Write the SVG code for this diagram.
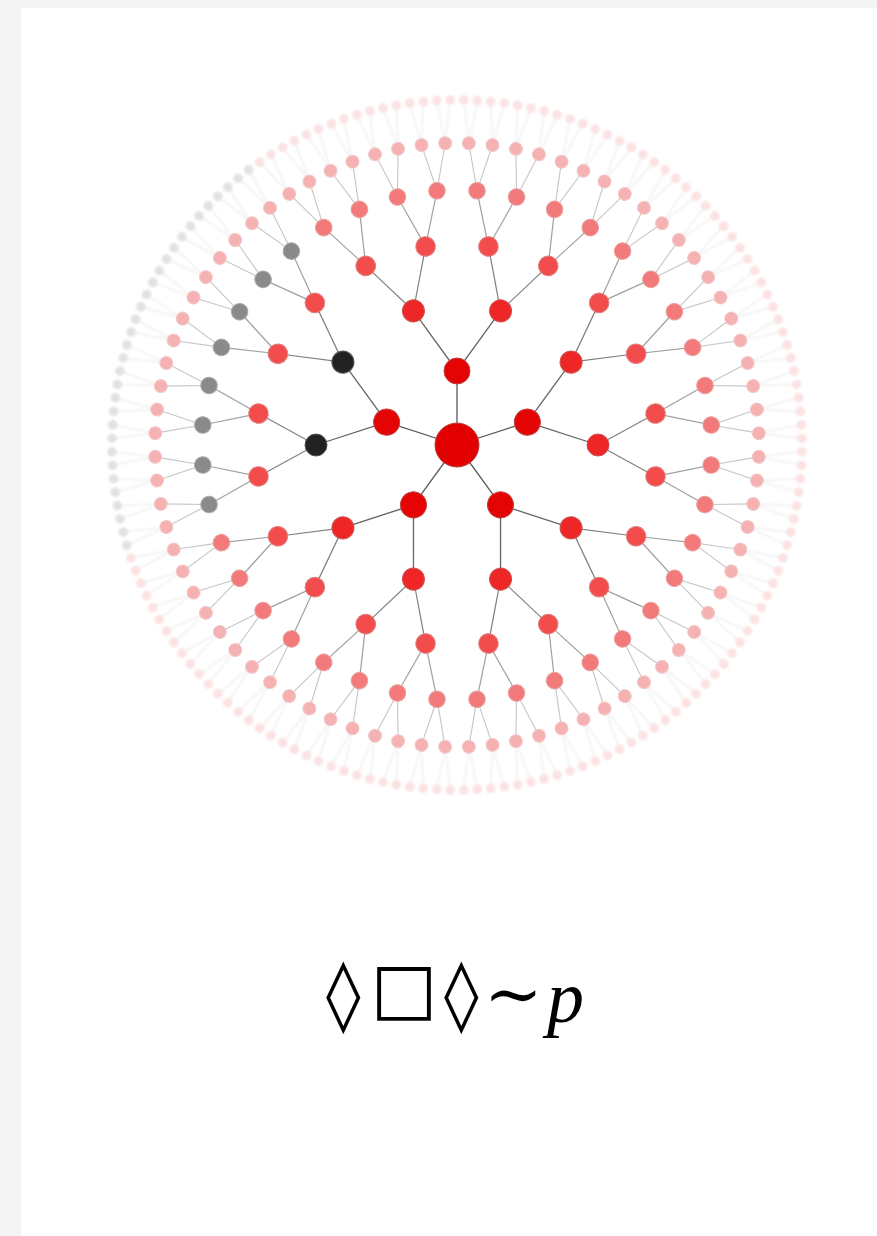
<svg xmlns="http://www.w3.org/2000/svg" width="877" height="1236" viewBox="0 0 877 1236">
<style>
.bg{fill:#f4f4f4}
.page{fill:#ffffff}
.e1{stroke:#5a5a5a;stroke-width:1.3}
.e2{stroke:#666;stroke-width:1.3}
.e3{stroke:#808080;stroke-width:1.2}
.e4{stroke:#a0a0a0;stroke-width:1.2}
.e5{stroke:#c6c6c6;stroke-width:1.1}
.e6{stroke:#e8e8e8;stroke-width:1}
.d0{fill:#e30000;stroke:#b54040;stroke-width:1}
.d1{fill:#e40404;stroke:#c04040;stroke-width:1}
.d2{fill:#ee2626;stroke:#d05050;stroke-width:1}
.d3{fill:#f24c4c;stroke:#e08080;stroke-width:1}
.d4{fill:#f37a7a;stroke:#eaa0a0;stroke-width:1}
.d5{fill:#f6b2b2;stroke:#f2caca;stroke-width:1}
.d6{fill:#fce2e2}
.g2{fill:#222;stroke:#555;stroke-width:1}
.g4{fill:#8a8a8a;stroke:#aaa;stroke-width:1}
.g6{fill:#e2e2e2}
.formula{font-family:"DejaVu Serif","Liberation Serif",serif;font-size:70px;fill:#000}
.var{font-family:"Liberation Serif","DejaVu Serif",serif;font-style:italic;font-size:74px}
</style>
<defs>
<filter id="soft" x="-20%" y="-20%" width="140%" height="140%"><feGaussianBlur stdDeviation="1.1"/></filter>
</defs>
<rect class="bg" x="0" y="0" width="877" height="1236"/>
<rect class="page" x="21" y="8" width="856" height="1228"/>
<g transform="translate(457 445)">
<g id="connectors">
<g class="e6" filter="url(#soft)">
<line transform="rotate(1.125)" y1="-345" x2="5.93" y2="-301.94"/><line transform="rotate(3.375)" y1="-345" x2="-5.93" y2="-301.94"/><line transform="rotate(5.625)" y1="-345" x2="5.93" y2="-301.94"/><line transform="rotate(7.875)" y1="-345" x2="-5.93" y2="-301.94"/>
<line transform="rotate(10.125)" y1="-345" x2="5.93" y2="-301.94"/><line transform="rotate(12.375)" y1="-345" x2="-5.93" y2="-301.94"/><line transform="rotate(14.625)" y1="-345" x2="5.93" y2="-301.94"/><line transform="rotate(16.875)" y1="-345" x2="-5.93" y2="-301.94"/>
<line transform="rotate(19.125)" y1="-345" x2="5.93" y2="-301.94"/><line transform="rotate(21.375)" y1="-345" x2="-5.93" y2="-301.94"/><line transform="rotate(23.625)" y1="-345" x2="5.93" y2="-301.94"/><line transform="rotate(25.875)" y1="-345" x2="-5.93" y2="-301.94"/>
<line transform="rotate(28.125)" y1="-345" x2="5.93" y2="-301.94"/><line transform="rotate(30.375)" y1="-345" x2="-5.93" y2="-301.94"/><line transform="rotate(32.625)" y1="-345" x2="5.93" y2="-301.94"/><line transform="rotate(34.875)" y1="-345" x2="-5.93" y2="-301.94"/>
<line transform="rotate(37.125)" y1="-345" x2="5.93" y2="-301.94"/><line transform="rotate(39.375)" y1="-345" x2="-5.93" y2="-301.94"/><line transform="rotate(41.625)" y1="-345" x2="5.93" y2="-301.94"/><line transform="rotate(43.875)" y1="-345" x2="-5.93" y2="-301.94"/>
<line transform="rotate(46.125)" y1="-345" x2="5.93" y2="-301.94"/><line transform="rotate(48.375)" y1="-345" x2="-5.93" y2="-301.94"/><line transform="rotate(50.625)" y1="-345" x2="5.93" y2="-301.94"/><line transform="rotate(52.875)" y1="-345" x2="-5.93" y2="-301.94"/>
<line transform="rotate(55.125)" y1="-345" x2="5.93" y2="-301.94"/><line transform="rotate(57.375)" y1="-345" x2="-5.93" y2="-301.94"/><line transform="rotate(59.625)" y1="-345" x2="5.93" y2="-301.94"/><line transform="rotate(61.875)" y1="-345" x2="-5.93" y2="-301.94"/>
<line transform="rotate(64.125)" y1="-345" x2="5.93" y2="-301.94"/><line transform="rotate(66.375)" y1="-345" x2="-5.93" y2="-301.94"/><line transform="rotate(68.625)" y1="-345" x2="5.93" y2="-301.94"/><line transform="rotate(70.875)" y1="-345" x2="-5.93" y2="-301.94"/>
<line transform="rotate(73.125)" y1="-345" x2="5.93" y2="-301.94"/><line transform="rotate(75.375)" y1="-345" x2="-5.93" y2="-301.94"/><line transform="rotate(77.625)" y1="-345" x2="5.93" y2="-301.94"/><line transform="rotate(79.875)" y1="-345" x2="-5.93" y2="-301.94"/>
<line transform="rotate(82.125)" y1="-345" x2="5.93" y2="-301.94"/><line transform="rotate(84.375)" y1="-345" x2="-5.93" y2="-301.94"/><line transform="rotate(86.625)" y1="-345" x2="5.93" y2="-301.94"/><line transform="rotate(88.875)" y1="-345" x2="-5.93" y2="-301.94"/>
<line transform="rotate(91.125)" y1="-345" x2="5.93" y2="-301.94"/><line transform="rotate(93.375)" y1="-345" x2="-5.93" y2="-301.94"/><line transform="rotate(95.625)" y1="-345" x2="5.93" y2="-301.94"/><line transform="rotate(97.875)" y1="-345" x2="-5.93" y2="-301.94"/>
<line transform="rotate(100.125)" y1="-345" x2="5.93" y2="-301.94"/><line transform="rotate(102.375)" y1="-345" x2="-5.93" y2="-301.94"/><line transform="rotate(104.625)" y1="-345" x2="5.93" y2="-301.94"/><line transform="rotate(106.875)" y1="-345" x2="-5.93" y2="-301.94"/>
<line transform="rotate(109.125)" y1="-345" x2="5.93" y2="-301.94"/><line transform="rotate(111.375)" y1="-345" x2="-5.93" y2="-301.94"/><line transform="rotate(113.625)" y1="-345" x2="5.93" y2="-301.94"/><line transform="rotate(115.875)" y1="-345" x2="-5.93" y2="-301.94"/>
<line transform="rotate(118.125)" y1="-345" x2="5.93" y2="-301.94"/><line transform="rotate(120.375)" y1="-345" x2="-5.93" y2="-301.94"/><line transform="rotate(122.625)" y1="-345" x2="5.93" y2="-301.94"/><line transform="rotate(124.875)" y1="-345" x2="-5.93" y2="-301.94"/>
<line transform="rotate(127.125)" y1="-345" x2="5.93" y2="-301.94"/><line transform="rotate(129.375)" y1="-345" x2="-5.93" y2="-301.94"/><line transform="rotate(131.625)" y1="-345" x2="5.93" y2="-301.94"/><line transform="rotate(133.875)" y1="-345" x2="-5.93" y2="-301.94"/>
<line transform="rotate(136.125)" y1="-345" x2="5.93" y2="-301.94"/><line transform="rotate(138.375)" y1="-345" x2="-5.93" y2="-301.94"/><line transform="rotate(140.625)" y1="-345" x2="5.93" y2="-301.94"/><line transform="rotate(142.875)" y1="-345" x2="-5.93" y2="-301.94"/>
<line transform="rotate(145.125)" y1="-345" x2="5.93" y2="-301.94"/><line transform="rotate(147.375)" y1="-345" x2="-5.93" y2="-301.94"/><line transform="rotate(149.625)" y1="-345" x2="5.93" y2="-301.94"/><line transform="rotate(151.875)" y1="-345" x2="-5.93" y2="-301.94"/>
<line transform="rotate(154.125)" y1="-345" x2="5.93" y2="-301.94"/><line transform="rotate(156.375)" y1="-345" x2="-5.93" y2="-301.94"/><line transform="rotate(158.625)" y1="-345" x2="5.93" y2="-301.94"/><line transform="rotate(160.875)" y1="-345" x2="-5.93" y2="-301.94"/>
<line transform="rotate(163.125)" y1="-345" x2="5.93" y2="-301.94"/><line transform="rotate(165.375)" y1="-345" x2="-5.93" y2="-301.94"/><line transform="rotate(167.625)" y1="-345" x2="5.93" y2="-301.94"/><line transform="rotate(169.875)" y1="-345" x2="-5.93" y2="-301.94"/>
<line transform="rotate(172.125)" y1="-345" x2="5.93" y2="-301.94"/><line transform="rotate(174.375)" y1="-345" x2="-5.93" y2="-301.94"/><line transform="rotate(176.625)" y1="-345" x2="5.93" y2="-301.94"/><line transform="rotate(178.875)" y1="-345" x2="-5.93" y2="-301.94"/>
<line transform="rotate(181.125)" y1="-345" x2="5.93" y2="-301.94"/><line transform="rotate(183.375)" y1="-345" x2="-5.93" y2="-301.94"/><line transform="rotate(185.625)" y1="-345" x2="5.93" y2="-301.94"/><line transform="rotate(187.875)" y1="-345" x2="-5.93" y2="-301.94"/>
<line transform="rotate(190.125)" y1="-345" x2="5.93" y2="-301.94"/><line transform="rotate(192.375)" y1="-345" x2="-5.93" y2="-301.94"/><line transform="rotate(194.625)" y1="-345" x2="5.93" y2="-301.94"/><line transform="rotate(196.875)" y1="-345" x2="-5.93" y2="-301.94"/>
<line transform="rotate(199.125)" y1="-345" x2="5.93" y2="-301.94"/><line transform="rotate(201.375)" y1="-345" x2="-5.93" y2="-301.94"/><line transform="rotate(203.625)" y1="-345" x2="5.93" y2="-301.94"/><line transform="rotate(205.875)" y1="-345" x2="-5.93" y2="-301.94"/>
<line transform="rotate(208.125)" y1="-345" x2="5.93" y2="-301.94"/><line transform="rotate(210.375)" y1="-345" x2="-5.93" y2="-301.94"/><line transform="rotate(212.625)" y1="-345" x2="5.93" y2="-301.94"/><line transform="rotate(214.875)" y1="-345" x2="-5.93" y2="-301.94"/>
<line transform="rotate(217.125)" y1="-345" x2="5.93" y2="-301.94"/><line transform="rotate(219.375)" y1="-345" x2="-5.93" y2="-301.94"/><line transform="rotate(221.625)" y1="-345" x2="5.93" y2="-301.94"/><line transform="rotate(223.875)" y1="-345" x2="-5.93" y2="-301.94"/>
<line transform="rotate(226.125)" y1="-345" x2="5.93" y2="-301.94"/><line transform="rotate(228.375)" y1="-345" x2="-5.93" y2="-301.94"/><line transform="rotate(230.625)" y1="-345" x2="5.93" y2="-301.94"/><line transform="rotate(232.875)" y1="-345" x2="-5.93" y2="-301.94"/>
<line transform="rotate(235.125)" y1="-345" x2="5.93" y2="-301.94"/><line transform="rotate(237.375)" y1="-345" x2="-5.93" y2="-301.94"/><line transform="rotate(239.625)" y1="-345" x2="5.93" y2="-301.94"/><line transform="rotate(241.875)" y1="-345" x2="-5.93" y2="-301.94"/>
<line transform="rotate(244.125)" y1="-345" x2="5.93" y2="-301.94"/><line transform="rotate(246.375)" y1="-345" x2="-5.93" y2="-301.94"/><line transform="rotate(248.625)" y1="-345" x2="5.93" y2="-301.94"/><line transform="rotate(250.875)" y1="-345" x2="-5.93" y2="-301.94"/>
<line transform="rotate(253.125)" y1="-345" x2="5.93" y2="-301.94"/><line transform="rotate(255.375)" y1="-345" x2="-5.93" y2="-301.94"/><line transform="rotate(257.625)" y1="-345" x2="5.93" y2="-301.94"/><line transform="rotate(259.875)" y1="-345" x2="-5.93" y2="-301.94"/>
<line transform="rotate(262.125)" y1="-345" x2="5.93" y2="-301.94"/><line transform="rotate(264.375)" y1="-345" x2="-5.93" y2="-301.94"/><line transform="rotate(266.625)" y1="-345" x2="5.93" y2="-301.94"/><line transform="rotate(268.875)" y1="-345" x2="-5.93" y2="-301.94"/>
<line transform="rotate(271.125)" y1="-345" x2="5.93" y2="-301.94"/><line transform="rotate(273.375)" y1="-345" x2="-5.93" y2="-301.94"/><line transform="rotate(275.625)" y1="-345" x2="5.93" y2="-301.94"/><line transform="rotate(277.875)" y1="-345" x2="-5.93" y2="-301.94"/>
<line transform="rotate(280.125)" y1="-345" x2="5.93" y2="-301.94"/><line transform="rotate(282.375)" y1="-345" x2="-5.93" y2="-301.94"/><line transform="rotate(284.625)" y1="-345" x2="5.93" y2="-301.94"/><line transform="rotate(286.875)" y1="-345" x2="-5.93" y2="-301.94"/>
<line transform="rotate(289.125)" y1="-345" x2="5.93" y2="-301.94"/><line transform="rotate(291.375)" y1="-345" x2="-5.93" y2="-301.94"/><line transform="rotate(293.625)" y1="-345" x2="5.93" y2="-301.94"/><line transform="rotate(295.875)" y1="-345" x2="-5.93" y2="-301.94"/>
<line transform="rotate(298.125)" y1="-345" x2="5.93" y2="-301.94"/><line transform="rotate(300.375)" y1="-345" x2="-5.93" y2="-301.94"/><line transform="rotate(302.625)" y1="-345" x2="5.93" y2="-301.94"/><line transform="rotate(304.875)" y1="-345" x2="-5.93" y2="-301.94"/>
<line transform="rotate(307.125)" y1="-345" x2="5.93" y2="-301.94"/><line transform="rotate(309.375)" y1="-345" x2="-5.93" y2="-301.94"/><line transform="rotate(311.625)" y1="-345" x2="5.93" y2="-301.94"/><line transform="rotate(313.875)" y1="-345" x2="-5.93" y2="-301.94"/>
<line transform="rotate(316.125)" y1="-345" x2="5.93" y2="-301.94"/><line transform="rotate(318.375)" y1="-345" x2="-5.93" y2="-301.94"/><line transform="rotate(320.625)" y1="-345" x2="5.93" y2="-301.94"/><line transform="rotate(322.875)" y1="-345" x2="-5.93" y2="-301.94"/>
<line transform="rotate(325.125)" y1="-345" x2="5.93" y2="-301.94"/><line transform="rotate(327.375)" y1="-345" x2="-5.93" y2="-301.94"/><line transform="rotate(329.625)" y1="-345" x2="5.93" y2="-301.94"/><line transform="rotate(331.875)" y1="-345" x2="-5.93" y2="-301.94"/>
<line transform="rotate(334.125)" y1="-345" x2="5.93" y2="-301.94"/><line transform="rotate(336.375)" y1="-345" x2="-5.93" y2="-301.94"/><line transform="rotate(338.625)" y1="-345" x2="5.93" y2="-301.94"/><line transform="rotate(340.875)" y1="-345" x2="-5.93" y2="-301.94"/>
<line transform="rotate(343.125)" y1="-345" x2="5.93" y2="-301.94"/><line transform="rotate(345.375)" y1="-345" x2="-5.93" y2="-301.94"/><line transform="rotate(347.625)" y1="-345" x2="5.93" y2="-301.94"/><line transform="rotate(349.875)" y1="-345" x2="-5.93" y2="-301.94"/>
<line transform="rotate(352.125)" y1="-345" x2="5.93" y2="-301.94"/><line transform="rotate(354.375)" y1="-345" x2="-5.93" y2="-301.94"/><line transform="rotate(356.625)" y1="-345" x2="5.93" y2="-301.94"/><line transform="rotate(358.875)" y1="-345" x2="-5.93" y2="-301.94"/>
</g>
<g class="e5">
<line transform="rotate(2.25)" y1="-302" x2="10.01" y2="-254.8"/><line transform="rotate(6.75)" y1="-302" x2="-10.01" y2="-254.8"/><line transform="rotate(11.25)" y1="-302" x2="10.01" y2="-254.8"/><line transform="rotate(15.75)" y1="-302" x2="-10.01" y2="-254.8"/>
<line transform="rotate(20.25)" y1="-302" x2="10.01" y2="-254.8"/><line transform="rotate(24.75)" y1="-302" x2="-10.01" y2="-254.8"/><line transform="rotate(29.25)" y1="-302" x2="10.01" y2="-254.8"/><line transform="rotate(33.75)" y1="-302" x2="-10.01" y2="-254.8"/>
<line transform="rotate(38.25)" y1="-302" x2="10.01" y2="-254.8"/><line transform="rotate(42.75)" y1="-302" x2="-10.01" y2="-254.8"/><line transform="rotate(47.25)" y1="-302" x2="10.01" y2="-254.8"/><line transform="rotate(51.75)" y1="-302" x2="-10.01" y2="-254.8"/>
<line transform="rotate(56.25)" y1="-302" x2="10.01" y2="-254.8"/><line transform="rotate(60.75)" y1="-302" x2="-10.01" y2="-254.8"/><line transform="rotate(65.25)" y1="-302" x2="10.01" y2="-254.8"/><line transform="rotate(69.75)" y1="-302" x2="-10.01" y2="-254.8"/>
<line transform="rotate(74.25)" y1="-302" x2="10.01" y2="-254.8"/><line transform="rotate(78.75)" y1="-302" x2="-10.01" y2="-254.8"/><line transform="rotate(83.25)" y1="-302" x2="10.01" y2="-254.8"/><line transform="rotate(87.75)" y1="-302" x2="-10.01" y2="-254.8"/>
<line transform="rotate(92.25)" y1="-302" x2="10.01" y2="-254.8"/><line transform="rotate(96.75)" y1="-302" x2="-10.01" y2="-254.8"/><line transform="rotate(101.25)" y1="-302" x2="10.01" y2="-254.8"/><line transform="rotate(105.75)" y1="-302" x2="-10.01" y2="-254.8"/>
<line transform="rotate(110.25)" y1="-302" x2="10.01" y2="-254.8"/><line transform="rotate(114.75)" y1="-302" x2="-10.01" y2="-254.8"/><line transform="rotate(119.25)" y1="-302" x2="10.01" y2="-254.8"/><line transform="rotate(123.75)" y1="-302" x2="-10.01" y2="-254.8"/>
<line transform="rotate(128.25)" y1="-302" x2="10.01" y2="-254.8"/><line transform="rotate(132.75)" y1="-302" x2="-10.01" y2="-254.8"/><line transform="rotate(137.25)" y1="-302" x2="10.01" y2="-254.8"/><line transform="rotate(141.75)" y1="-302" x2="-10.01" y2="-254.8"/>
<line transform="rotate(146.25)" y1="-302" x2="10.01" y2="-254.8"/><line transform="rotate(150.75)" y1="-302" x2="-10.01" y2="-254.8"/><line transform="rotate(155.25)" y1="-302" x2="10.01" y2="-254.8"/><line transform="rotate(159.75)" y1="-302" x2="-10.01" y2="-254.8"/>
<line transform="rotate(164.25)" y1="-302" x2="10.01" y2="-254.8"/><line transform="rotate(168.75)" y1="-302" x2="-10.01" y2="-254.8"/><line transform="rotate(173.25)" y1="-302" x2="10.01" y2="-254.8"/><line transform="rotate(177.75)" y1="-302" x2="-10.01" y2="-254.8"/>
<line transform="rotate(182.25)" y1="-302" x2="10.01" y2="-254.8"/><line transform="rotate(186.75)" y1="-302" x2="-10.01" y2="-254.8"/><line transform="rotate(191.25)" y1="-302" x2="10.01" y2="-254.8"/><line transform="rotate(195.75)" y1="-302" x2="-10.01" y2="-254.8"/>
<line transform="rotate(200.25)" y1="-302" x2="10.01" y2="-254.8"/><line transform="rotate(204.75)" y1="-302" x2="-10.01" y2="-254.8"/><line transform="rotate(209.25)" y1="-302" x2="10.01" y2="-254.8"/><line transform="rotate(213.75)" y1="-302" x2="-10.01" y2="-254.8"/>
<line transform="rotate(218.25)" y1="-302" x2="10.01" y2="-254.8"/><line transform="rotate(222.75)" y1="-302" x2="-10.01" y2="-254.8"/><line transform="rotate(227.25)" y1="-302" x2="10.01" y2="-254.8"/><line transform="rotate(231.75)" y1="-302" x2="-10.01" y2="-254.8"/>
<line transform="rotate(236.25)" y1="-302" x2="10.01" y2="-254.8"/><line transform="rotate(240.75)" y1="-302" x2="-10.01" y2="-254.8"/><line transform="rotate(245.25)" y1="-302" x2="10.01" y2="-254.8"/><line transform="rotate(249.75)" y1="-302" x2="-10.01" y2="-254.8"/>
<line transform="rotate(254.25)" y1="-302" x2="10.01" y2="-254.8"/><line transform="rotate(258.75)" y1="-302" x2="-10.01" y2="-254.8"/><line transform="rotate(263.25)" y1="-302" x2="10.01" y2="-254.8"/><line transform="rotate(267.75)" y1="-302" x2="-10.01" y2="-254.8"/>
<line transform="rotate(272.25)" y1="-302" x2="10.01" y2="-254.8"/><line transform="rotate(276.75)" y1="-302" x2="-10.01" y2="-254.8"/><line transform="rotate(281.25)" y1="-302" x2="10.01" y2="-254.8"/><line transform="rotate(285.75)" y1="-302" x2="-10.01" y2="-254.8"/>
<line transform="rotate(290.25)" y1="-302" x2="10.01" y2="-254.8"/><line transform="rotate(294.75)" y1="-302" x2="-10.01" y2="-254.8"/><line transform="rotate(299.25)" y1="-302" x2="10.01" y2="-254.8"/><line transform="rotate(303.75)" y1="-302" x2="-10.01" y2="-254.8"/>
<line transform="rotate(308.25)" y1="-302" x2="10.01" y2="-254.8"/><line transform="rotate(312.75)" y1="-302" x2="-10.01" y2="-254.8"/><line transform="rotate(317.25)" y1="-302" x2="10.01" y2="-254.8"/><line transform="rotate(321.75)" y1="-302" x2="-10.01" y2="-254.8"/>
<line transform="rotate(326.25)" y1="-302" x2="10.01" y2="-254.8"/><line transform="rotate(330.75)" y1="-302" x2="-10.01" y2="-254.8"/><line transform="rotate(335.25)" y1="-302" x2="10.01" y2="-254.8"/><line transform="rotate(339.75)" y1="-302" x2="-10.01" y2="-254.8"/>
<line transform="rotate(344.25)" y1="-302" x2="10.01" y2="-254.8"/><line transform="rotate(348.75)" y1="-302" x2="-10.01" y2="-254.8"/><line transform="rotate(353.25)" y1="-302" x2="10.01" y2="-254.8"/><line transform="rotate(357.75)" y1="-302" x2="-10.01" y2="-254.8"/>
</g>
<g class="e4">
<line transform="rotate(4.5)" y1="-255" x2="15.77" y2="-200.38"/><line transform="rotate(13.5)" y1="-255" x2="-15.77" y2="-200.38"/><line transform="rotate(22.5)" y1="-255" x2="15.77" y2="-200.38"/><line transform="rotate(31.5)" y1="-255" x2="-15.77" y2="-200.38"/>
<line transform="rotate(40.5)" y1="-255" x2="15.77" y2="-200.38"/><line transform="rotate(49.5)" y1="-255" x2="-15.77" y2="-200.38"/><line transform="rotate(58.5)" y1="-255" x2="15.77" y2="-200.38"/><line transform="rotate(67.5)" y1="-255" x2="-15.77" y2="-200.38"/>
<line transform="rotate(76.5)" y1="-255" x2="15.77" y2="-200.38"/><line transform="rotate(85.5)" y1="-255" x2="-15.77" y2="-200.38"/><line transform="rotate(94.5)" y1="-255" x2="15.77" y2="-200.38"/><line transform="rotate(103.5)" y1="-255" x2="-15.77" y2="-200.38"/>
<line transform="rotate(112.5)" y1="-255" x2="15.77" y2="-200.38"/><line transform="rotate(121.5)" y1="-255" x2="-15.77" y2="-200.38"/><line transform="rotate(130.5)" y1="-255" x2="15.77" y2="-200.38"/><line transform="rotate(139.5)" y1="-255" x2="-15.77" y2="-200.38"/>
<line transform="rotate(148.5)" y1="-255" x2="15.77" y2="-200.38"/><line transform="rotate(157.5)" y1="-255" x2="-15.77" y2="-200.38"/><line transform="rotate(166.5)" y1="-255" x2="15.77" y2="-200.38"/><line transform="rotate(175.5)" y1="-255" x2="-15.77" y2="-200.38"/>
<line transform="rotate(184.5)" y1="-255" x2="15.77" y2="-200.38"/><line transform="rotate(193.5)" y1="-255" x2="-15.77" y2="-200.38"/><line transform="rotate(202.5)" y1="-255" x2="15.77" y2="-200.38"/><line transform="rotate(211.5)" y1="-255" x2="-15.77" y2="-200.38"/>
<line transform="rotate(220.5)" y1="-255" x2="15.77" y2="-200.38"/><line transform="rotate(229.5)" y1="-255" x2="-15.77" y2="-200.38"/><line transform="rotate(238.5)" y1="-255" x2="15.77" y2="-200.38"/><line transform="rotate(247.5)" y1="-255" x2="-15.77" y2="-200.38"/>
<line transform="rotate(256.5)" y1="-255" x2="15.77" y2="-200.38"/><line transform="rotate(265.5)" y1="-255" x2="-15.77" y2="-200.38"/><line transform="rotate(274.5)" y1="-255" x2="15.77" y2="-200.38"/><line transform="rotate(283.5)" y1="-255" x2="-15.77" y2="-200.38"/>
<line transform="rotate(292.5)" y1="-255" x2="15.77" y2="-200.38"/><line transform="rotate(301.5)" y1="-255" x2="-15.77" y2="-200.38"/><line transform="rotate(310.5)" y1="-255" x2="15.77" y2="-200.38"/><line transform="rotate(319.5)" y1="-255" x2="-15.77" y2="-200.38"/>
<line transform="rotate(328.5)" y1="-255" x2="15.77" y2="-200.38"/><line transform="rotate(337.5)" y1="-255" x2="-15.77" y2="-200.38"/><line transform="rotate(346.5)" y1="-255" x2="15.77" y2="-200.38"/><line transform="rotate(355.5)" y1="-255" x2="-15.77" y2="-200.38"/>
</g>
<g class="e3">
<line transform="rotate(9)" y1="-201" x2="22.06" y2="-139.26"/><line transform="rotate(27)" y1="-201" x2="-22.06" y2="-139.26"/><line transform="rotate(45)" y1="-201" x2="22.06" y2="-139.26"/><line transform="rotate(63)" y1="-201" x2="-22.06" y2="-139.26"/>
<line transform="rotate(81)" y1="-201" x2="22.06" y2="-139.26"/><line transform="rotate(99)" y1="-201" x2="-22.06" y2="-139.26"/><line transform="rotate(117)" y1="-201" x2="22.06" y2="-139.26"/><line transform="rotate(135)" y1="-201" x2="-22.06" y2="-139.26"/>
<line transform="rotate(153)" y1="-201" x2="22.06" y2="-139.26"/><line transform="rotate(171)" y1="-201" x2="-22.06" y2="-139.26"/><line transform="rotate(189)" y1="-201" x2="22.06" y2="-139.26"/><line transform="rotate(207)" y1="-201" x2="-22.06" y2="-139.26"/>
<line transform="rotate(225)" y1="-201" x2="22.06" y2="-139.26"/><line transform="rotate(243)" y1="-201" x2="-22.06" y2="-139.26"/><line transform="rotate(261)" y1="-201" x2="22.06" y2="-139.26"/><line transform="rotate(279)" y1="-201" x2="-22.06" y2="-139.26"/>
<line transform="rotate(297)" y1="-201" x2="22.06" y2="-139.26"/><line transform="rotate(315)" y1="-201" x2="-22.06" y2="-139.26"/><line transform="rotate(333)" y1="-201" x2="22.06" y2="-139.26"/><line transform="rotate(351)" y1="-201" x2="-22.06" y2="-139.26"/>
</g>
<g class="e2">
<line transform="rotate(18)" y1="-141" x2="-22.87" y2="-70.38"/><line transform="rotate(54)" y1="-141" x2="22.87" y2="-70.38"/><line transform="rotate(90)" y1="-141" x2="-22.87" y2="-70.38"/><line transform="rotate(126)" y1="-141" x2="22.87" y2="-70.38"/><line transform="rotate(162)" y1="-141" x2="-22.87" y2="-70.38"/>
<line transform="rotate(198)" y1="-141" x2="22.87" y2="-70.38"/><line transform="rotate(234)" y1="-141" x2="-22.87" y2="-70.38"/><line transform="rotate(270)" y1="-141" x2="22.87" y2="-70.38"/><line transform="rotate(306)" y1="-141" x2="-22.87" y2="-70.38"/><line transform="rotate(342)" y1="-141" x2="22.87" y2="-70.38"/>
</g>
<g class="e1">
<line y2="-74"/><line transform="rotate(72)" y2="-74"/><line transform="rotate(144)" y2="-74"/><line transform="rotate(216)" y2="-74"/><line transform="rotate(288)" y2="-74"/>
</g>
</g>
<g id="nodes">
<g id="layer6" filter="url(#soft)">
<g id="n6-0" class="d6"><circle transform="rotate(1.125)" cy="-345" r="4.8"/></g><g id="n6-1" class="d6"><circle transform="rotate(3.375)" cy="-345" r="4.8"/></g><g id="n6-2" class="d6"><circle transform="rotate(5.625)" cy="-345" r="4.8"/></g><g id="n6-3" class="d6"><circle transform="rotate(7.875)" cy="-345" r="4.8"/></g>
<g id="n6-4" class="d6"><circle transform="rotate(10.125)" cy="-345" r="4.8"/></g><g id="n6-5" class="d6"><circle transform="rotate(12.375)" cy="-345" r="4.8"/></g><g id="n6-6" class="d6"><circle transform="rotate(14.625)" cy="-345" r="4.8"/></g><g id="n6-7" class="d6"><circle transform="rotate(16.875)" cy="-345" r="4.8"/></g>
<g id="n6-8" class="d6"><circle transform="rotate(19.125)" cy="-345" r="4.8"/></g><g id="n6-9" class="d6"><circle transform="rotate(21.375)" cy="-345" r="4.8"/></g><g id="n6-10" class="d6"><circle transform="rotate(23.625)" cy="-345" r="4.8"/></g><g id="n6-11" class="d6"><circle transform="rotate(25.875)" cy="-345" r="4.8"/></g>
<g id="n6-12" class="d6"><circle transform="rotate(28.125)" cy="-345" r="4.8"/></g><g id="n6-13" class="d6"><circle transform="rotate(30.375)" cy="-345" r="4.8"/></g><g id="n6-14" class="d6"><circle transform="rotate(32.625)" cy="-345" r="4.8"/></g><g id="n6-15" class="d6"><circle transform="rotate(34.875)" cy="-345" r="4.8"/></g>
<g id="n6-16" class="d6"><circle transform="rotate(37.125)" cy="-345" r="4.8"/></g><g id="n6-17" class="d6"><circle transform="rotate(39.375)" cy="-345" r="4.8"/></g><g id="n6-18" class="d6"><circle transform="rotate(41.625)" cy="-345" r="4.8"/></g><g id="n6-19" class="d6"><circle transform="rotate(43.875)" cy="-345" r="4.8"/></g>
<g id="n6-20" class="d6"><circle transform="rotate(46.125)" cy="-345" r="4.8"/></g><g id="n6-21" class="d6"><circle transform="rotate(48.375)" cy="-345" r="4.8"/></g><g id="n6-22" class="d6"><circle transform="rotate(50.625)" cy="-345" r="4.8"/></g><g id="n6-23" class="d6"><circle transform="rotate(52.875)" cy="-345" r="4.8"/></g>
<g id="n6-24" class="d6"><circle transform="rotate(55.125)" cy="-345" r="4.8"/></g><g id="n6-25" class="d6"><circle transform="rotate(57.375)" cy="-345" r="4.8"/></g><g id="n6-26" class="d6"><circle transform="rotate(59.625)" cy="-345" r="4.8"/></g><g id="n6-27" class="d6"><circle transform="rotate(61.875)" cy="-345" r="4.8"/></g>
<g id="n6-28" class="d6"><circle transform="rotate(64.125)" cy="-345" r="4.8"/></g><g id="n6-29" class="d6"><circle transform="rotate(66.375)" cy="-345" r="4.8"/></g><g id="n6-30" class="d6"><circle transform="rotate(68.625)" cy="-345" r="4.8"/></g><g id="n6-31" class="d6"><circle transform="rotate(70.875)" cy="-345" r="4.8"/></g>
<g id="n6-32" class="d6"><circle transform="rotate(73.125)" cy="-345" r="4.8"/></g><g id="n6-33" class="d6"><circle transform="rotate(75.375)" cy="-345" r="4.8"/></g><g id="n6-34" class="d6"><circle transform="rotate(77.625)" cy="-345" r="4.8"/></g><g id="n6-35" class="d6"><circle transform="rotate(79.875)" cy="-345" r="4.8"/></g>
<g id="n6-36" class="d6"><circle transform="rotate(82.125)" cy="-345" r="4.8"/></g><g id="n6-37" class="d6"><circle transform="rotate(84.375)" cy="-345" r="4.8"/></g><g id="n6-38" class="d6"><circle transform="rotate(86.625)" cy="-345" r="4.8"/></g><g id="n6-39" class="d6"><circle transform="rotate(88.875)" cy="-345" r="4.8"/></g>
<g id="n6-40" class="d6"><circle transform="rotate(91.125)" cy="-345" r="4.8"/></g><g id="n6-41" class="d6"><circle transform="rotate(93.375)" cy="-345" r="4.8"/></g><g id="n6-42" class="d6"><circle transform="rotate(95.625)" cy="-345" r="4.8"/></g><g id="n6-43" class="d6"><circle transform="rotate(97.875)" cy="-345" r="4.8"/></g>
<g id="n6-44" class="d6"><circle transform="rotate(100.125)" cy="-345" r="4.8"/></g><g id="n6-45" class="d6"><circle transform="rotate(102.375)" cy="-345" r="4.8"/></g><g id="n6-46" class="d6"><circle transform="rotate(104.625)" cy="-345" r="4.8"/></g><g id="n6-47" class="d6"><circle transform="rotate(106.875)" cy="-345" r="4.8"/></g>
<g id="n6-48" class="d6"><circle transform="rotate(109.125)" cy="-345" r="4.8"/></g><g id="n6-49" class="d6"><circle transform="rotate(111.375)" cy="-345" r="4.8"/></g><g id="n6-50" class="d6"><circle transform="rotate(113.625)" cy="-345" r="4.8"/></g><g id="n6-51" class="d6"><circle transform="rotate(115.875)" cy="-345" r="4.8"/></g>
<g id="n6-52" class="d6"><circle transform="rotate(118.125)" cy="-345" r="4.8"/></g><g id="n6-53" class="d6"><circle transform="rotate(120.375)" cy="-345" r="4.8"/></g><g id="n6-54" class="d6"><circle transform="rotate(122.625)" cy="-345" r="4.8"/></g><g id="n6-55" class="d6"><circle transform="rotate(124.875)" cy="-345" r="4.8"/></g>
<g id="n6-56" class="d6"><circle transform="rotate(127.125)" cy="-345" r="4.8"/></g><g id="n6-57" class="d6"><circle transform="rotate(129.375)" cy="-345" r="4.8"/></g><g id="n6-58" class="d6"><circle transform="rotate(131.625)" cy="-345" r="4.8"/></g><g id="n6-59" class="d6"><circle transform="rotate(133.875)" cy="-345" r="4.8"/></g>
<g id="n6-60" class="d6"><circle transform="rotate(136.125)" cy="-345" r="4.8"/></g><g id="n6-61" class="d6"><circle transform="rotate(138.375)" cy="-345" r="4.8"/></g><g id="n6-62" class="d6"><circle transform="rotate(140.625)" cy="-345" r="4.8"/></g><g id="n6-63" class="d6"><circle transform="rotate(142.875)" cy="-345" r="4.8"/></g>
<g id="n6-64" class="d6"><circle transform="rotate(145.125)" cy="-345" r="4.8"/></g><g id="n6-65" class="d6"><circle transform="rotate(147.375)" cy="-345" r="4.8"/></g><g id="n6-66" class="d6"><circle transform="rotate(149.625)" cy="-345" r="4.8"/></g><g id="n6-67" class="d6"><circle transform="rotate(151.875)" cy="-345" r="4.8"/></g>
<g id="n6-68" class="d6"><circle transform="rotate(154.125)" cy="-345" r="4.8"/></g><g id="n6-69" class="d6"><circle transform="rotate(156.375)" cy="-345" r="4.8"/></g><g id="n6-70" class="d6"><circle transform="rotate(158.625)" cy="-345" r="4.8"/></g><g id="n6-71" class="d6"><circle transform="rotate(160.875)" cy="-345" r="4.8"/></g>
<g id="n6-72" class="d6"><circle transform="rotate(163.125)" cy="-345" r="4.8"/></g><g id="n6-73" class="d6"><circle transform="rotate(165.375)" cy="-345" r="4.8"/></g><g id="n6-74" class="d6"><circle transform="rotate(167.625)" cy="-345" r="4.8"/></g><g id="n6-75" class="d6"><circle transform="rotate(169.875)" cy="-345" r="4.8"/></g>
<g id="n6-76" class="d6"><circle transform="rotate(172.125)" cy="-345" r="4.8"/></g><g id="n6-77" class="d6"><circle transform="rotate(174.375)" cy="-345" r="4.8"/></g><g id="n6-78" class="d6"><circle transform="rotate(176.625)" cy="-345" r="4.8"/></g><g id="n6-79" class="d6"><circle transform="rotate(178.875)" cy="-345" r="4.8"/></g>
<g id="n6-80" class="d6"><circle transform="rotate(181.125)" cy="-345" r="4.8"/></g><g id="n6-81" class="d6"><circle transform="rotate(183.375)" cy="-345" r="4.8"/></g><g id="n6-82" class="d6"><circle transform="rotate(185.625)" cy="-345" r="4.8"/></g><g id="n6-83" class="d6"><circle transform="rotate(187.875)" cy="-345" r="4.8"/></g>
<g id="n6-84" class="d6"><circle transform="rotate(190.125)" cy="-345" r="4.8"/></g><g id="n6-85" class="d6"><circle transform="rotate(192.375)" cy="-345" r="4.8"/></g><g id="n6-86" class="d6"><circle transform="rotate(194.625)" cy="-345" r="4.8"/></g><g id="n6-87" class="d6"><circle transform="rotate(196.875)" cy="-345" r="4.8"/></g>
<g id="n6-88" class="d6"><circle transform="rotate(199.125)" cy="-345" r="4.8"/></g><g id="n6-89" class="d6"><circle transform="rotate(201.375)" cy="-345" r="4.8"/></g><g id="n6-90" class="d6"><circle transform="rotate(203.625)" cy="-345" r="4.8"/></g><g id="n6-91" class="d6"><circle transform="rotate(205.875)" cy="-345" r="4.8"/></g>
<g id="n6-92" class="d6"><circle transform="rotate(208.125)" cy="-345" r="4.8"/></g><g id="n6-93" class="d6"><circle transform="rotate(210.375)" cy="-345" r="4.8"/></g><g id="n6-94" class="d6"><circle transform="rotate(212.625)" cy="-345" r="4.8"/></g><g id="n6-95" class="d6"><circle transform="rotate(214.875)" cy="-345" r="4.8"/></g>
<g id="n6-96" class="d6"><circle transform="rotate(217.125)" cy="-345" r="4.8"/></g><g id="n6-97" class="d6"><circle transform="rotate(219.375)" cy="-345" r="4.8"/></g><g id="n6-98" class="d6"><circle transform="rotate(221.625)" cy="-345" r="4.8"/></g><g id="n6-99" class="d6"><circle transform="rotate(223.875)" cy="-345" r="4.8"/></g>
<g id="n6-100" class="d6"><circle transform="rotate(226.125)" cy="-345" r="4.8"/></g><g id="n6-101" class="d6"><circle transform="rotate(228.375)" cy="-345" r="4.8"/></g><g id="n6-102" class="d6"><circle transform="rotate(230.625)" cy="-345" r="4.8"/></g><g id="n6-103" class="d6"><circle transform="rotate(232.875)" cy="-345" r="4.8"/></g>
<g id="n6-104" class="d6"><circle transform="rotate(235.125)" cy="-345" r="4.8"/></g><g id="n6-105" class="d6"><circle transform="rotate(237.375)" cy="-345" r="4.8"/></g><g id="n6-106" class="d6"><circle transform="rotate(239.625)" cy="-345" r="4.8"/></g><g id="n6-107" class="d6"><circle transform="rotate(241.875)" cy="-345" r="4.8"/></g>
<g id="n6-108" class="d6"><circle transform="rotate(244.125)" cy="-345" r="4.8"/></g><g id="n6-109" class="d6"><circle transform="rotate(246.375)" cy="-345" r="4.8"/></g><g id="n6-110" class="d6"><circle transform="rotate(248.625)" cy="-345" r="4.8"/></g><g id="n6-111" class="d6"><circle transform="rotate(250.875)" cy="-345" r="4.8"/></g>
<g id="n6-112" class="g6"><circle transform="rotate(253.125)" cy="-345" r="4.8"/></g><g id="n6-113" class="g6"><circle transform="rotate(255.375)" cy="-345" r="4.8"/></g><g id="n6-114" class="g6"><circle transform="rotate(257.625)" cy="-345" r="4.8"/></g><g id="n6-115" class="g6"><circle transform="rotate(259.875)" cy="-345" r="4.8"/></g>
<g id="n6-116" class="g6"><circle transform="rotate(262.125)" cy="-345" r="4.8"/></g><g id="n6-117" class="g6"><circle transform="rotate(264.375)" cy="-345" r="4.8"/></g><g id="n6-118" class="g6"><circle transform="rotate(266.625)" cy="-345" r="4.8"/></g><g id="n6-119" class="g6"><circle transform="rotate(268.875)" cy="-345" r="4.8"/></g>
<g id="n6-120" class="g6"><circle transform="rotate(271.125)" cy="-345" r="4.8"/></g><g id="n6-121" class="g6"><circle transform="rotate(273.375)" cy="-345" r="4.8"/></g><g id="n6-122" class="g6"><circle transform="rotate(275.625)" cy="-345" r="4.8"/></g><g id="n6-123" class="g6"><circle transform="rotate(277.875)" cy="-345" r="4.8"/></g>
<g id="n6-124" class="g6"><circle transform="rotate(280.125)" cy="-345" r="4.8"/></g><g id="n6-125" class="g6"><circle transform="rotate(282.375)" cy="-345" r="4.8"/></g><g id="n6-126" class="g6"><circle transform="rotate(284.625)" cy="-345" r="4.8"/></g><g id="n6-127" class="g6"><circle transform="rotate(286.875)" cy="-345" r="4.8"/></g>
<g id="n6-128" class="g6"><circle transform="rotate(289.125)" cy="-345" r="4.8"/></g><g id="n6-129" class="g6"><circle transform="rotate(291.375)" cy="-345" r="4.8"/></g><g id="n6-130" class="g6"><circle transform="rotate(293.625)" cy="-345" r="4.8"/></g><g id="n6-131" class="g6"><circle transform="rotate(295.875)" cy="-345" r="4.8"/></g>
<g id="n6-132" class="g6"><circle transform="rotate(298.125)" cy="-345" r="4.8"/></g><g id="n6-133" class="g6"><circle transform="rotate(300.375)" cy="-345" r="4.8"/></g><g id="n6-134" class="g6"><circle transform="rotate(302.625)" cy="-345" r="4.8"/></g><g id="n6-135" class="g6"><circle transform="rotate(304.875)" cy="-345" r="4.8"/></g>
<g id="n6-136" class="g6"><circle transform="rotate(307.125)" cy="-345" r="4.8"/></g><g id="n6-137" class="g6"><circle transform="rotate(309.375)" cy="-345" r="4.8"/></g><g id="n6-138" class="g6"><circle transform="rotate(311.625)" cy="-345" r="4.8"/></g><g id="n6-139" class="g6"><circle transform="rotate(313.875)" cy="-345" r="4.8"/></g>
<g id="n6-140" class="g6"><circle transform="rotate(316.125)" cy="-345" r="4.8"/></g><g id="n6-141" class="g6"><circle transform="rotate(318.375)" cy="-345" r="4.8"/></g><g id="n6-142" class="g6"><circle transform="rotate(320.625)" cy="-345" r="4.8"/></g><g id="n6-143" class="g6"><circle transform="rotate(322.875)" cy="-345" r="4.8"/></g>
<g id="n6-144" class="d6"><circle transform="rotate(325.125)" cy="-345" r="4.8"/></g><g id="n6-145" class="d6"><circle transform="rotate(327.375)" cy="-345" r="4.8"/></g><g id="n6-146" class="d6"><circle transform="rotate(329.625)" cy="-345" r="4.8"/></g><g id="n6-147" class="d6"><circle transform="rotate(331.875)" cy="-345" r="4.8"/></g>
<g id="n6-148" class="d6"><circle transform="rotate(334.125)" cy="-345" r="4.8"/></g><g id="n6-149" class="d6"><circle transform="rotate(336.375)" cy="-345" r="4.8"/></g><g id="n6-150" class="d6"><circle transform="rotate(338.625)" cy="-345" r="4.8"/></g><g id="n6-151" class="d6"><circle transform="rotate(340.875)" cy="-345" r="4.8"/></g>
<g id="n6-152" class="d6"><circle transform="rotate(343.125)" cy="-345" r="4.8"/></g><g id="n6-153" class="d6"><circle transform="rotate(345.375)" cy="-345" r="4.8"/></g><g id="n6-154" class="d6"><circle transform="rotate(347.625)" cy="-345" r="4.8"/></g><g id="n6-155" class="d6"><circle transform="rotate(349.875)" cy="-345" r="4.8"/></g>
<g id="n6-156" class="d6"><circle transform="rotate(352.125)" cy="-345" r="4.8"/></g><g id="n6-157" class="d6"><circle transform="rotate(354.375)" cy="-345" r="4.8"/></g><g id="n6-158" class="d6"><circle transform="rotate(356.625)" cy="-345" r="4.8"/></g><g id="n6-159" class="d6"><circle transform="rotate(358.875)" cy="-345" r="4.8"/></g>
</g>
<g id="layer5">
<g id="n5-0" class="d5"><circle transform="rotate(2.25)" cy="-302" r="6.5"/></g><g id="n5-1" class="d5"><circle transform="rotate(6.75)" cy="-302" r="6.5"/></g><g id="n5-2" class="d5"><circle transform="rotate(11.25)" cy="-302" r="6.5"/></g><g id="n5-3" class="d5"><circle transform="rotate(15.75)" cy="-302" r="6.5"/></g>
<g id="n5-4" class="d5"><circle transform="rotate(20.25)" cy="-302" r="6.5"/></g><g id="n5-5" class="d5"><circle transform="rotate(24.75)" cy="-302" r="6.5"/></g><g id="n5-6" class="d5"><circle transform="rotate(29.25)" cy="-302" r="6.5"/></g><g id="n5-7" class="d5"><circle transform="rotate(33.75)" cy="-302" r="6.5"/></g>
<g id="n5-8" class="d5"><circle transform="rotate(38.25)" cy="-302" r="6.5"/></g><g id="n5-9" class="d5"><circle transform="rotate(42.75)" cy="-302" r="6.5"/></g><g id="n5-10" class="d5"><circle transform="rotate(47.25)" cy="-302" r="6.5"/></g><g id="n5-11" class="d5"><circle transform="rotate(51.75)" cy="-302" r="6.5"/></g>
<g id="n5-12" class="d5"><circle transform="rotate(56.25)" cy="-302" r="6.5"/></g><g id="n5-13" class="d5"><circle transform="rotate(60.75)" cy="-302" r="6.5"/></g><g id="n5-14" class="d5"><circle transform="rotate(65.25)" cy="-302" r="6.5"/></g><g id="n5-15" class="d5"><circle transform="rotate(69.75)" cy="-302" r="6.5"/></g>
<g id="n5-16" class="d5"><circle transform="rotate(74.25)" cy="-302" r="6.5"/></g><g id="n5-17" class="d5"><circle transform="rotate(78.75)" cy="-302" r="6.5"/></g><g id="n5-18" class="d5"><circle transform="rotate(83.25)" cy="-302" r="6.5"/></g><g id="n5-19" class="d5"><circle transform="rotate(87.75)" cy="-302" r="6.5"/></g>
<g id="n5-20" class="d5"><circle transform="rotate(92.25)" cy="-302" r="6.5"/></g><g id="n5-21" class="d5"><circle transform="rotate(96.75)" cy="-302" r="6.5"/></g><g id="n5-22" class="d5"><circle transform="rotate(101.25)" cy="-302" r="6.5"/></g><g id="n5-23" class="d5"><circle transform="rotate(105.75)" cy="-302" r="6.5"/></g>
<g id="n5-24" class="d5"><circle transform="rotate(110.25)" cy="-302" r="6.5"/></g><g id="n5-25" class="d5"><circle transform="rotate(114.75)" cy="-302" r="6.5"/></g><g id="n5-26" class="d5"><circle transform="rotate(119.25)" cy="-302" r="6.5"/></g><g id="n5-27" class="d5"><circle transform="rotate(123.75)" cy="-302" r="6.5"/></g>
<g id="n5-28" class="d5"><circle transform="rotate(128.25)" cy="-302" r="6.5"/></g><g id="n5-29" class="d5"><circle transform="rotate(132.75)" cy="-302" r="6.5"/></g><g id="n5-30" class="d5"><circle transform="rotate(137.25)" cy="-302" r="6.5"/></g><g id="n5-31" class="d5"><circle transform="rotate(141.75)" cy="-302" r="6.5"/></g>
<g id="n5-32" class="d5"><circle transform="rotate(146.25)" cy="-302" r="6.5"/></g><g id="n5-33" class="d5"><circle transform="rotate(150.75)" cy="-302" r="6.5"/></g><g id="n5-34" class="d5"><circle transform="rotate(155.25)" cy="-302" r="6.5"/></g><g id="n5-35" class="d5"><circle transform="rotate(159.75)" cy="-302" r="6.5"/></g>
<g id="n5-36" class="d5"><circle transform="rotate(164.25)" cy="-302" r="6.5"/></g><g id="n5-37" class="d5"><circle transform="rotate(168.75)" cy="-302" r="6.5"/></g><g id="n5-38" class="d5"><circle transform="rotate(173.25)" cy="-302" r="6.5"/></g><g id="n5-39" class="d5"><circle transform="rotate(177.75)" cy="-302" r="6.5"/></g>
<g id="n5-40" class="d5"><circle transform="rotate(182.25)" cy="-302" r="6.5"/></g><g id="n5-41" class="d5"><circle transform="rotate(186.75)" cy="-302" r="6.5"/></g><g id="n5-42" class="d5"><circle transform="rotate(191.25)" cy="-302" r="6.5"/></g><g id="n5-43" class="d5"><circle transform="rotate(195.75)" cy="-302" r="6.5"/></g>
<g id="n5-44" class="d5"><circle transform="rotate(200.25)" cy="-302" r="6.5"/></g><g id="n5-45" class="d5"><circle transform="rotate(204.75)" cy="-302" r="6.5"/></g><g id="n5-46" class="d5"><circle transform="rotate(209.25)" cy="-302" r="6.5"/></g><g id="n5-47" class="d5"><circle transform="rotate(213.75)" cy="-302" r="6.5"/></g>
<g id="n5-48" class="d5"><circle transform="rotate(218.25)" cy="-302" r="6.5"/></g><g id="n5-49" class="d5"><circle transform="rotate(222.75)" cy="-302" r="6.5"/></g><g id="n5-50" class="d5"><circle transform="rotate(227.25)" cy="-302" r="6.5"/></g><g id="n5-51" class="d5"><circle transform="rotate(231.75)" cy="-302" r="6.5"/></g>
<g id="n5-52" class="d5"><circle transform="rotate(236.25)" cy="-302" r="6.5"/></g><g id="n5-53" class="d5"><circle transform="rotate(240.75)" cy="-302" r="6.5"/></g><g id="n5-54" class="d5"><circle transform="rotate(245.25)" cy="-302" r="6.5"/></g><g id="n5-55" class="d5"><circle transform="rotate(249.75)" cy="-302" r="6.5"/></g>
<g id="n5-56" class="d5"><circle transform="rotate(254.25)" cy="-302" r="6.5"/></g><g id="n5-57" class="d5"><circle transform="rotate(258.75)" cy="-302" r="6.5"/></g><g id="n5-58" class="d5"><circle transform="rotate(263.25)" cy="-302" r="6.5"/></g><g id="n5-59" class="d5"><circle transform="rotate(267.75)" cy="-302" r="6.5"/></g>
<g id="n5-60" class="d5"><circle transform="rotate(272.25)" cy="-302" r="6.5"/></g><g id="n5-61" class="d5"><circle transform="rotate(276.75)" cy="-302" r="6.5"/></g><g id="n5-62" class="d5"><circle transform="rotate(281.25)" cy="-302" r="6.5"/></g><g id="n5-63" class="d5"><circle transform="rotate(285.75)" cy="-302" r="6.5"/></g>
<g id="n5-64" class="d5"><circle transform="rotate(290.25)" cy="-302" r="6.5"/></g><g id="n5-65" class="d5"><circle transform="rotate(294.75)" cy="-302" r="6.5"/></g><g id="n5-66" class="d5"><circle transform="rotate(299.25)" cy="-302" r="6.5"/></g><g id="n5-67" class="d5"><circle transform="rotate(303.75)" cy="-302" r="6.5"/></g>
<g id="n5-68" class="d5"><circle transform="rotate(308.25)" cy="-302" r="6.5"/></g><g id="n5-69" class="d5"><circle transform="rotate(312.75)" cy="-302" r="6.5"/></g><g id="n5-70" class="d5"><circle transform="rotate(317.25)" cy="-302" r="6.5"/></g><g id="n5-71" class="d5"><circle transform="rotate(321.75)" cy="-302" r="6.5"/></g>
<g id="n5-72" class="d5"><circle transform="rotate(326.25)" cy="-302" r="6.5"/></g><g id="n5-73" class="d5"><circle transform="rotate(330.75)" cy="-302" r="6.5"/></g><g id="n5-74" class="d5"><circle transform="rotate(335.25)" cy="-302" r="6.5"/></g><g id="n5-75" class="d5"><circle transform="rotate(339.75)" cy="-302" r="6.5"/></g>
<g id="n5-76" class="d5"><circle transform="rotate(344.25)" cy="-302" r="6.5"/></g><g id="n5-77" class="d5"><circle transform="rotate(348.75)" cy="-302" r="6.5"/></g><g id="n5-78" class="d5"><circle transform="rotate(353.25)" cy="-302" r="6.5"/></g><g id="n5-79" class="d5"><circle transform="rotate(357.75)" cy="-302" r="6.5"/></g>
</g>
<g id="layer4">
<g id="n4-0" class="d4"><circle transform="rotate(4.5)" cy="-255" r="8.3"/></g><g id="n4-1" class="d4"><circle transform="rotate(13.5)" cy="-255" r="8.3"/></g><g id="n4-2" class="d4"><circle transform="rotate(22.5)" cy="-255" r="8.3"/></g><g id="n4-3" class="d4"><circle transform="rotate(31.5)" cy="-255" r="8.3"/></g>
<g id="n4-4" class="d4"><circle transform="rotate(40.5)" cy="-255" r="8.3"/></g><g id="n4-5" class="d4"><circle transform="rotate(49.5)" cy="-255" r="8.3"/></g><g id="n4-6" class="d4"><circle transform="rotate(58.5)" cy="-255" r="8.3"/></g><g id="n4-7" class="d4"><circle transform="rotate(67.5)" cy="-255" r="8.3"/></g>
<g id="n4-8" class="d4"><circle transform="rotate(76.5)" cy="-255" r="8.3"/></g><g id="n4-9" class="d4"><circle transform="rotate(85.5)" cy="-255" r="8.3"/></g><g id="n4-10" class="d4"><circle transform="rotate(94.5)" cy="-255" r="8.3"/></g><g id="n4-11" class="d4"><circle transform="rotate(103.5)" cy="-255" r="8.3"/></g>
<g id="n4-12" class="d4"><circle transform="rotate(112.5)" cy="-255" r="8.3"/></g><g id="n4-13" class="d4"><circle transform="rotate(121.5)" cy="-255" r="8.3"/></g><g id="n4-14" class="d4"><circle transform="rotate(130.5)" cy="-255" r="8.3"/></g><g id="n4-15" class="d4"><circle transform="rotate(139.5)" cy="-255" r="8.3"/></g>
<g id="n4-16" class="d4"><circle transform="rotate(148.5)" cy="-255" r="8.3"/></g><g id="n4-17" class="d4"><circle transform="rotate(157.5)" cy="-255" r="8.3"/></g><g id="n4-18" class="d4"><circle transform="rotate(166.5)" cy="-255" r="8.3"/></g><g id="n4-19" class="d4"><circle transform="rotate(175.5)" cy="-255" r="8.3"/></g>
<g id="n4-20" class="d4"><circle transform="rotate(184.5)" cy="-255" r="8.3"/></g><g id="n4-21" class="d4"><circle transform="rotate(193.5)" cy="-255" r="8.3"/></g><g id="n4-22" class="d4"><circle transform="rotate(202.5)" cy="-255" r="8.3"/></g><g id="n4-23" class="d4"><circle transform="rotate(211.5)" cy="-255" r="8.3"/></g>
<g id="n4-24" class="d4"><circle transform="rotate(220.5)" cy="-255" r="8.3"/></g><g id="n4-25" class="d4"><circle transform="rotate(229.5)" cy="-255" r="8.3"/></g><g id="n4-26" class="d4"><circle transform="rotate(238.5)" cy="-255" r="8.3"/></g><g id="n4-27" class="d4"><circle transform="rotate(247.5)" cy="-255" r="8.3"/></g>
<g id="n4-28" class="g4"><circle transform="rotate(256.5)" cy="-255" r="8.3"/></g><g id="n4-29" class="g4"><circle transform="rotate(265.5)" cy="-255" r="8.3"/></g><g id="n4-30" class="g4"><circle transform="rotate(274.5)" cy="-255" r="8.3"/></g><g id="n4-31" class="g4"><circle transform="rotate(283.5)" cy="-255" r="8.3"/></g>
<g id="n4-32" class="g4"><circle transform="rotate(292.5)" cy="-255" r="8.3"/></g><g id="n4-33" class="g4"><circle transform="rotate(301.5)" cy="-255" r="8.3"/></g><g id="n4-34" class="g4"><circle transform="rotate(310.5)" cy="-255" r="8.3"/></g><g id="n4-35" class="g4"><circle transform="rotate(319.5)" cy="-255" r="8.3"/></g>
<g id="n4-36" class="d4"><circle transform="rotate(328.5)" cy="-255" r="8.3"/></g><g id="n4-37" class="d4"><circle transform="rotate(337.5)" cy="-255" r="8.3"/></g><g id="n4-38" class="d4"><circle transform="rotate(346.5)" cy="-255" r="8.3"/></g><g id="n4-39" class="d4"><circle transform="rotate(355.5)" cy="-255" r="8.3"/></g>
</g>
<g id="layer3">
<g id="n3-0" class="d3"><circle transform="rotate(9)" cy="-201" r="9.8"/></g><g id="n3-1" class="d3"><circle transform="rotate(27)" cy="-201" r="9.8"/></g><g id="n3-2" class="d3"><circle transform="rotate(45)" cy="-201" r="9.8"/></g><g id="n3-3" class="d3"><circle transform="rotate(63)" cy="-201" r="9.8"/></g>
<g id="n3-4" class="d3"><circle transform="rotate(81)" cy="-201" r="9.8"/></g><g id="n3-5" class="d3"><circle transform="rotate(99)" cy="-201" r="9.8"/></g><g id="n3-6" class="d3"><circle transform="rotate(117)" cy="-201" r="9.8"/></g><g id="n3-7" class="d3"><circle transform="rotate(135)" cy="-201" r="9.8"/></g>
<g id="n3-8" class="d3"><circle transform="rotate(153)" cy="-201" r="9.8"/></g><g id="n3-9" class="d3"><circle transform="rotate(171)" cy="-201" r="9.8"/></g><g id="n3-10" class="d3"><circle transform="rotate(189)" cy="-201" r="9.8"/></g><g id="n3-11" class="d3"><circle transform="rotate(207)" cy="-201" r="9.8"/></g>
<g id="n3-12" class="d3"><circle transform="rotate(225)" cy="-201" r="9.8"/></g><g id="n3-13" class="d3"><circle transform="rotate(243)" cy="-201" r="9.8"/></g><g id="n3-14" class="d3"><circle transform="rotate(261)" cy="-201" r="9.8"/></g><g id="n3-15" class="d3"><circle transform="rotate(279)" cy="-201" r="9.8"/></g>
<g id="n3-16" class="d3"><circle transform="rotate(297)" cy="-201" r="9.8"/></g><g id="n3-17" class="d3"><circle transform="rotate(315)" cy="-201" r="9.8"/></g><g id="n3-18" class="d3"><circle transform="rotate(333)" cy="-201" r="9.8"/></g><g id="n3-19" class="d3"><circle transform="rotate(351)" cy="-201" r="9.8"/></g>
</g>
<g id="layer2">
<g id="n2-0" class="d2"><circle transform="rotate(18)" cy="-141" r="11"/></g><g id="n2-1" class="d2"><circle transform="rotate(54)" cy="-141" r="11"/></g><g id="n2-2" class="d2"><circle transform="rotate(90)" cy="-141" r="11"/></g><g id="n2-3" class="d2"><circle transform="rotate(126)" cy="-141" r="11"/></g><g id="n2-4" class="d2"><circle transform="rotate(162)" cy="-141" r="11"/></g>
<g id="n2-5" class="d2"><circle transform="rotate(198)" cy="-141" r="11"/></g><g id="n2-6" class="d2"><circle transform="rotate(234)" cy="-141" r="11"/></g><g id="n2-7" class="g2"><circle transform="rotate(270)" cy="-141" r="11"/></g><g id="n2-8" class="g2"><circle transform="rotate(306)" cy="-141" r="11"/></g><g id="n2-9" class="d2"><circle transform="rotate(342)" cy="-141" r="11"/></g>
</g>
<g id="layer1">
<g id="n1-0" class="d1"><circle cy="-74" r="13"/></g><g id="n1-1" class="d1"><circle transform="rotate(72)" cy="-74" r="13"/></g><g id="n1-2" class="d1"><circle transform="rotate(144)" cy="-74" r="13"/></g><g id="n1-3" class="d1"><circle transform="rotate(216)" cy="-74" r="13"/></g><g id="n1-4" class="d1"><circle transform="rotate(288)" cy="-74" r="13"/></g>
</g>
<g id="n0" class="d0"><circle r="22"/></g>
</g>
</g>
<text class="formula" y="1018"><tspan x="326" y="1018">◊</tspan><tspan x="371" y="1012">□</tspan><tspan x="444" y="1018">◊</tspan><tspan x="484" y="1018">∼</tspan><tspan class="var" x="547" y="1022">p</tspan></text>
</svg>
